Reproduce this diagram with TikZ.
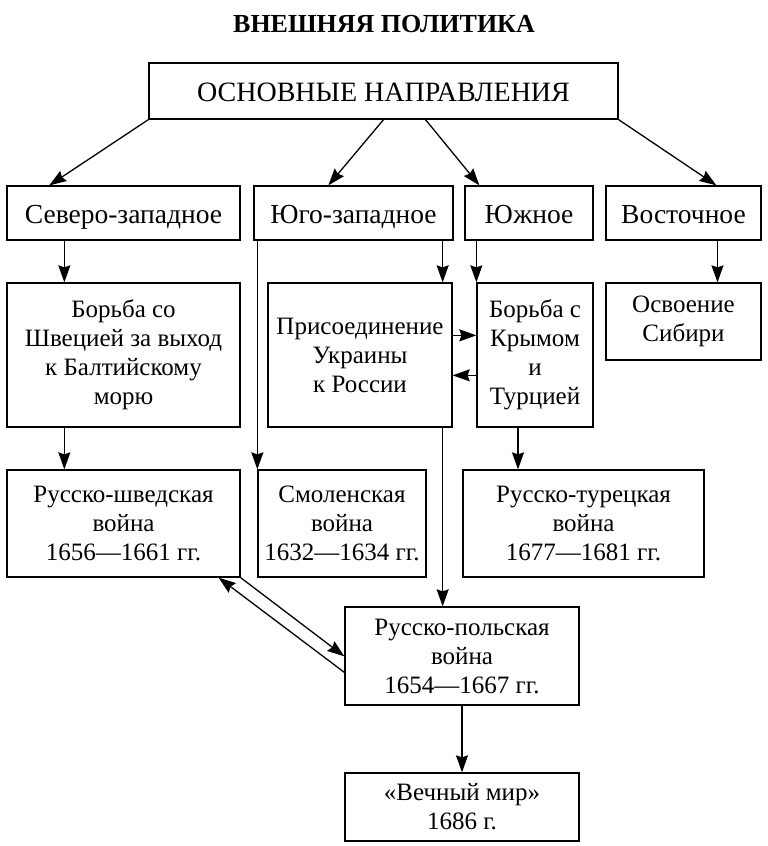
\documentclass[tikz,border=0pt]{standalone}
\usepackage{fontspec}
\setmainfont{Liberation Serif}
\usetikzlibrary{arrows.meta}
\begin{document}
\begin{tikzpicture}
  [x=1pt,y=-1pt,
    every node/.style={font=\fontsize{25}{29}\selectfont},
    box/.style={draw,line width=1.3pt,align=center,inner sep=0pt},
    dirbox/.style={box,minimum height=54pt,text height=24pt,text depth=4pt,font=\fontsize{27.5}{30}\selectfont},
    arr/.style={line width=1.3pt,-{Stealth[length=17pt,width=12pt,inset=2pt]}},
  ]
  \useasboundingbox (0,0) rectangle (768,846);
  \node (title) at (384,24) {\fontsize{26}{30}\selectfont\bfseries ВНЕШНЯЯ ПОЛИТИКА};
  \node[box,minimum width=469pt,minimum height=56pt,text height=24pt,text depth=4pt,font=\fontsize{28}{30}\selectfont] (main) at (383.5,91) {ОСНОВНЫЕ НАПРАВЛЕНИЯ};
  \node[dirbox,minimum width=233pt] (nw) at (123.5,213) {Северо-западное};
  \node[dirbox,minimum width=199pt] (sw) at (353.5,213) {Юго-западное};
  \node[dirbox,minimum width=128pt] (south) at (529,213) {Южное};
  \node[dirbox,minimum width=155pt] (east) at (683.5,213) {Восточное};
  \node[box,minimum width=233pt,minimum height=144pt] (baltic) at (123.5,355) {Борьба со\\Швецией за выход\\к Балтийскому\\морю};
  \node[box,minimum width=184pt,minimum height=144pt] (ukraine) at (360,355) {Присоединение\\Украины\\к России};
  \node[box,minimum width=116pt,minimum height=144pt] (crimea) at (535,355) {Борьба с\\Крымом\\и\\Турцией};
  \node[box,minimum width=155pt,minimum height=77pt] (siberia) at (683.5,321.5) {Освоение\\Сибири};
  \node[box,minimum width=233pt,minimum height=107pt] (swedwar) at (123.5,523.5) {Русско-шведская\\война\\1656—1661 гг.};
  \node[box,minimum width=168pt,minimum height=107pt] (smolwar) at (342,523.5) {Смоленская\\война\\1632—1634 гг.};
  \node[box,minimum width=241pt,minimum height=107pt] (turkwar) at (583.5,523.5) {Русско-турецкая\\война\\1677—1681 гг.};
  \node[box,minimum width=234pt,minimum height=98pt] (polwar) at (462,656) {Русско-польская\\война\\1654—1667 гг.};
  \node[box,minimum width=234pt,minimum height=68pt] (peace) at (462,807) {«Вечный мир»\\1686 г.};

  \draw[arr] (main.south west) -- ([xshift=43pt]nw.north west);
  \draw[arr] (main.south) -- ([xshift=75pt]sw.north west);
  \draw[arr] ([xshift=42pt]main.south) -- ([xshift=15pt]south.north west);
  \draw[arr] (main.south east) -- ([xshift=111pt]east.north west);
  \draw[arr] ([xshift=58pt]nw.south west) -- ([xshift=58pt]baltic.north west);
  \draw[arr] ([xshift=58pt]baltic.south west) -- ([xshift=58pt]swedwar.north west);
  \draw[arr] (smolwar.north west |- sw.south) -- (smolwar.north west);
  \draw[arr] ([xshift=-10pt]ukraine.north east |- sw.south) -- ([xshift=-10pt]ukraine.north east);
  \draw[arr] (crimea.north west |- south.south) -- (crimea.north west);
  \draw[arr] ([xshift=34pt]east.south) -- ([xshift=34pt]siberia.north);
  \draw[arr] ([yshift=-53pt]ukraine.north east) -- ([yshift=-53pt]crimea.north west);
  \draw[arr] ([yshift=-93pt]crimea.north west) -- ([yshift=-93pt]ukraine.north east);
  \draw[arr] ([xshift=-17pt]crimea.south) -- ([xshift=-17pt]crimea.south |- turkwar.north);
  \draw[arr] ([xshift=-10pt]ukraine.south east) -- ([xshift=-10pt]ukraine.south east |- polwar.north);
  \draw[arr] (swedwar.south east) -- ([yshift=-50pt]polwar.north west);
  \draw[arr] ([yshift=-66pt]polwar.north west) -- ([xshift=-22pt]swedwar.south east);
  \draw[arr] (polwar) -- (peace);
\end{tikzpicture}
\end{document}
